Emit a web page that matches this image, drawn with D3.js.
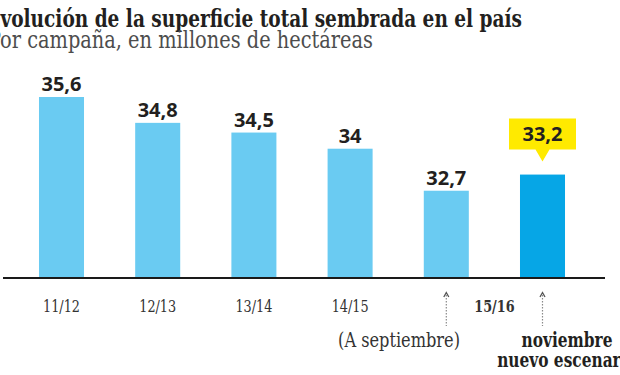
<!DOCTYPE html>
<html>
<head>
<meta charset="utf-8">
<script src="https://cdnjs.cloudflare.com/ajax/libs/d3/7.8.5/d3.min.js"></script>
<style>
  body { margin: 0; background: #fff; }
  svg { display: block; }
</style>
</head>
<body>
<svg width="620" height="375"></svg>
<script>
// campaigns (the last two are both 15/16: september data and the november scenario)
var categories = ["11/12", "12/13", "13/14", "14/15", "15/16 sep", "15/16 nov"];
var values = [35.6, 34.8, 34.5, 34, 32.7, 33.2];
var valueLabels = ["35,6", "34,8", "34,5", "34", "32,7", "33,2"];
var tickLabels = ["11/12", "12/13", "13/14", "14/15", "15/16"];
var notes = ["(A septiembre)", "noviembre", "nuevo escenario"];

var serif = "'DejaVu Serif', serif";
var sans = "'Open Sans', 'Noto Sans', sans-serif";
var stretchY = 1.15; // the original serif is a bit taller than DejaVu for the same width

var svg = d3.select("svg");

// measure a string so the serif text can be sized to the width seen in the picture
var measure = function(str, size, weight) {
  var t = svg.append("text")
    .style("font-family", serif)
    .style("font-stretch", "condensed")
    .style("font-size", size + "px")
    .style("font-weight", weight)
    .text(str);
  var w = t.node().getComputedTextLength();
  t.remove();
  return w;
};
var fitSize = function(str, width, weight) {
  return 20 * width / measure(str, 20, weight);
};

var serifText = function(str, x, y, size, weight, anchor, color) {
  return svg.append("text")
    .attr("transform", "translate(" + x + "," + y + ") scale(1," + stretchY + ")")
    .style("text-anchor", anchor)
    .style("font-family", serif)
    .style("font-stretch", "condensed")
    .style("font-weight", weight)
    .style("font-size", size + "px")
    .attr("fill", color)
    .text(str);
};

var margin = { left: 13.4, right: 29.4, baseline: 278 };

var x = d3.scaleBand()
  .domain(categories)
  .range([margin.left, 620 - margin.right])
  .paddingInner(0.532)
  .paddingOuter(0.266);

var y = d3.scaleLinear()
  .domain([30, 35.6])
  .range([margin.baseline, 97]);

var cx = function(d) { return x(d) + x.bandwidth() / 2; };
var last = categories.length - 1;

// title + subtitle (cut at the left edge like the original)
var titleSize = fitSize("volución de la superficie total sembrada en el país", 522, "bold");
serifText("Evolución de la superficie total sembrada en el país",
  522, 27, titleSize, "bold", "end", "#231f20");

var subSize = fitSize("or campaña, en millones de hectáreas", 373, "normal");
serifText("Por campaña, en millones de hectáreas",
  373, 48, subSize, "normal", "end", "#4d4d4d");

// bars
svg.selectAll("rect.bar")
  .data(categories)
  .enter()
  .append("rect")
  .attr("class", "bar")
  .attr("x", function(d) { return x(d); })
  .attr("y", function(d, i) { return y(values[i]); })
  .attr("width", x.bandwidth())
  .attr("height", function(d, i) { return margin.baseline - y(values[i]); })
  .attr("fill", function(d, i) { return i == last ? "#06a6e6" : "#6acbf2"; });

// value labels over the bars (the last one goes in the yellow callout)
svg.selectAll("text.value")
  .data(categories.slice(0, last))
  .enter()
  .append("text")
  .attr("class", "value")
  .attr("x", cx)
  .attr("y", function(d, i) { return y(values[i]) - 6; })
  .style("text-anchor", "middle")
  .style("font-family", sans)
  .style("font-weight", "bold")
  .style("font-size", "20px")
  .attr("fill", "#231f20")
  .text(function(d, i) { return valueLabels[i]; });

var tipX = cx(categories[last]);
var tipY = y(values[last]) - 13;
var box = { w: 67, h: 31, arrow: 12 };
svg.append("path")
  .attr("d", "M" + (tipX - box.w / 2) + "," + (tipY - box.arrow - box.h)
    + "h" + box.w + "v" + box.h
    + "H" + (tipX + 7) + "L" + tipX + "," + tipY + "L" + (tipX - 7) + "," + (tipY - box.arrow)
    + "H" + (tipX - box.w / 2) + "Z")
  .attr("fill", "#ffea00");
svg.append("text")
  .attr("x", tipX)
  .attr("y", tipY - box.arrow - 9)
  .style("text-anchor", "middle")
  .style("font-family", sans)
  .style("font-weight", "bold")
  .style("font-size", "20px")
  .attr("fill", "#231f20")
  .text(valueLabels[last]);

// baseline
svg.append("line")
  .attr("x1", 3).attr("x2", 605)
  .attr("y1", margin.baseline).attr("y2", margin.baseline)
  .attr("stroke", "#1a1a1a")
  .attr("stroke-width", 2);

// campaign labels
var tickSize = fitSize("11/12", 37, "normal");
var tickX = categories.slice(0, 4).map(cx);
tickX.push((cx(categories[4]) + cx(categories[5])) / 2);
tickLabels.forEach(function(d, i) {
  serifText(d, tickX[i], 312, tickSize, i == 4 ? "bold" : "normal", "middle", "#333");
});

// dotted arrows under the two 15/16 bars
[categories[4], categories[5]].forEach(function(c) {
  var ax = cx(c);
  svg.append("line")
    .attr("x1", ax).attr("x2", ax)
    .attr("y1", 295).attr("y2", 326)
    .attr("stroke", "#8a8a8a")
    .attr("stroke-width", 1.2)
    .attr("stroke-dasharray", "1.5,1.5");
  svg.append("path")
    .attr("d", "M" + (ax - 2.5) + ",297L" + ax + ",292.5L" + (ax + 2.5) + ",297")
    .attr("fill", "none")
    .attr("stroke", "#555")
    .attr("stroke-width", 1.3);
});

var noteSize = fitSize("(A septiembre)", 122, "normal");
serifText(notes[0], 460, 347, noteSize, "normal", "end", "#333");

var novSize = fitSize("noviembre", 91, "bold");
notes.slice(1).forEach(function(d, i) {
  serifText(d, 567, 347 + i * 20, novSize, "bold", "middle", "#231f20");
});
</script>
</body>
</html>
